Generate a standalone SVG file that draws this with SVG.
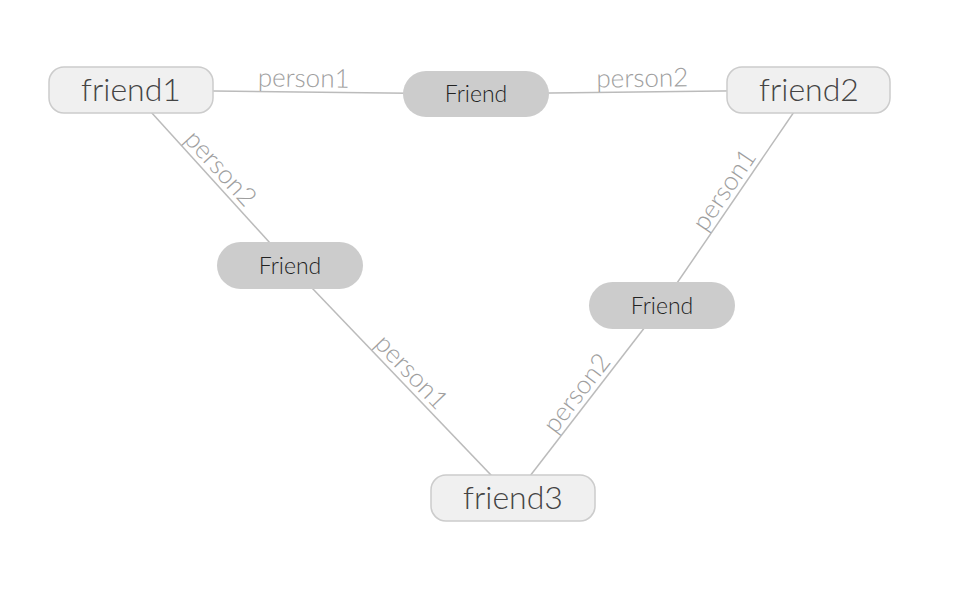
<svg xmlns="http://www.w3.org/2000/svg" width="970" height="604" viewBox="0 0 970 604">
<style>
.bg{fill:#ffffff}
.edge{stroke:#bbbbbb;stroke-width:1.5;fill:none}
.elabel{font-family:Lato,"Liberation Sans",sans-serif;font-weight:300;font-size:26px;fill:#9e9e9e;text-anchor:middle}
.ent rect{fill:#f0f0f0;stroke:#cccccc;stroke-width:1.5}
.ent text{font-family:Lato,"Liberation Sans",sans-serif;font-weight:300;font-size:32px;fill:#444444;text-anchor:middle}
.rel rect{fill:#cccccc}
.rel text{font-family:Lato,"Liberation Sans",sans-serif;font-weight:300;font-size:23px;fill:#222222;text-anchor:middle}
</style>
<rect class="bg" x="0" y="0" width="970" height="604"/>
<g id="connectors">
  <line class="edge" x1="131" y1="90" x2="476" y2="94"/>
  <line class="edge" x1="476" y1="94" x2="809" y2="90"/>
  <line class="edge" x1="131" y1="90" x2="290" y2="265"/>
  <line class="edge" x1="290" y1="265" x2="513" y2="498"/>
  <line class="edge" x1="513" y1="498" x2="662" y2="305"/>
  <line class="edge" x1="662" y1="305" x2="809" y2="90"/>
  <text class="elabel" transform="translate(303.5,92) rotate(0.7)" x="0" y="-5">person1</text>
  <text class="elabel" transform="translate(642.5,92) rotate(-0.7)" x="0" y="-5">person2</text>
  <text class="elabel" transform="translate(210.5,177.5) rotate(47.7)" x="0" y="-5">person2</text>
  <text class="elabel" transform="translate(401.5,381.5) rotate(46.3)" x="0" y="-5">person1</text>
  <text class="elabel" transform="translate(587.5,401.5) rotate(-52.3)" x="0" y="-5">person2</text>
  <text class="elabel" transform="translate(735.5,197.5) rotate(-55.6)" x="0" y="-5">person1</text>
</g>
<g id="friend1" class="ent">
  <rect x="49" y="67" width="164" height="46" rx="15"/>
  <text x="131" y="101">friend1</text>
</g>
<g id="friend2" class="ent">
  <rect x="727" y="67" width="163" height="46" rx="15"/>
  <text x="809" y="101">friend2</text>
</g>
<g id="friend3" class="ent">
  <rect x="431" y="475" width="164" height="46" rx="15"/>
  <text x="513" y="509">friend3</text>
</g>
<g id="rel-top" class="rel">
  <rect x="403" y="71" width="146" height="46" rx="23"/>
  <text x="476" y="102">Friend</text>
</g>
<g id="rel-left" class="rel">
  <rect x="217" y="242" width="146" height="47" rx="23.5"/>
  <text x="290" y="274">Friend</text>
</g>
<g id="rel-right" class="rel">
  <rect x="589" y="282" width="146" height="47" rx="23.5"/>
  <text x="662" y="314">Friend</text>
</g>
</svg>
